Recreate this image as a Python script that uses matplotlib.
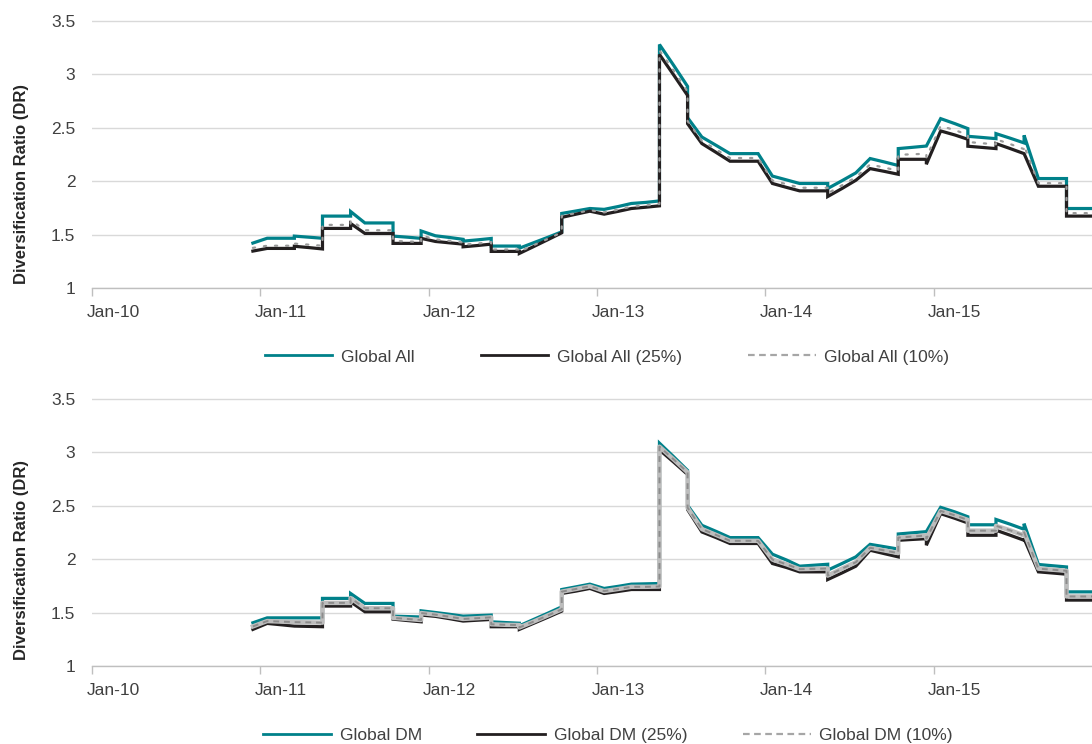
import matplotlib
matplotlib.use('Agg')
import matplotlib.pyplot as plt
import pandas as pd
from matplotlib.transforms import ScaledTranslation
from matplotlib.lines import Line2D

# ---------------- data ----------------
months = [
    '2010-12', '2011-01', '2011-02', '2011-03', '2011-03', '2011-04',
    '2011-05', '2011-05', '2011-06', '2011-07', '2011-07', '2011-08',
    '2011-09', '2011-10', '2011-10', '2011-11', '2011-12', '2011-12',
    '2012-01', '2012-02', '2012-03', '2012-03', '2012-04', '2012-05',
    '2012-05', '2012-06', '2012-07', '2012-07', '2012-08', '2012-09',
    '2012-10', '2012-10', '2012-11', '2012-12', '2013-01', '2013-02',
    '2013-03', '2013-04', '2013-05', '2013-05', '2013-06', '2013-07',
    '2013-07', '2013-08', '2013-09', '2013-10', '2013-11', '2013-12',
    '2014-01', '2014-02', '2014-03', '2014-04', '2014-05', '2014-05',
    '2014-06', '2014-07', '2014-08', '2014-09', '2014-10', '2014-10',
    '2014-11', '2014-12', '2014-12', '2015-01', '2015-02', '2015-03',
    '2015-03', '2015-04', '2015-05', '2015-05', '2015-06', '2015-07',
    '2015-07', '2015-08', '2015-09', '2015-10', '2015-10', '2015-11',
    '2015-12',
]

global_all = [
    1.42, 1.465, 1.465, 1.465, 1.485, 1.475,
    1.465, 1.672, 1.672, 1.672, 1.715, 1.608,
    1.608, 1.608, 1.485, 1.475, 1.464, 1.533,
    1.488, 1.472, 1.455, 1.438, 1.45, 1.463,
    1.392, 1.392, 1.392, 1.372, 1.423, 1.474,
    1.525, 1.697, 1.72, 1.743, 1.735, 1.762,
    1.79, 1.80, 1.814, 3.276, 3.08, 2.884,
    2.592, 2.411, 2.333, 2.256, 2.256, 2.256,
    2.046, 2.01, 1.977, 1.977, 1.977, 1.93,
    2.003, 2.076, 2.21, 2.178, 2.145, 2.303,
    2.315, 2.327, 2.327, 2.583, 2.536, 2.49,
    2.418, 2.407, 2.396, 2.443, 2.40, 2.356,
    2.427, 2.023, 2.023, 2.023, 1.743, 1.743,
    1.743,
]
global_all_25 = [
    1.345, 1.37, 1.37, 1.37, 1.39, 1.378,
    1.365, 1.557, 1.557, 1.557, 1.603, 1.51,
    1.51, 1.51, 1.417, 1.417, 1.417, 1.464,
    1.435, 1.422, 1.41, 1.385, 1.397, 1.41,
    1.342, 1.342, 1.342, 1.323, 1.387, 1.452,
    1.516, 1.66, 1.69, 1.718, 1.69, 1.717,
    1.743, 1.755, 1.768, 3.183, 2.99, 2.80,
    2.536, 2.35, 2.267, 2.185, 2.185, 2.185,
    1.977, 1.94, 1.908, 1.908, 1.908, 1.855,
    1.93, 2.007, 2.116, 2.09, 2.063, 2.203,
    2.203, 2.203, 2.157, 2.468, 2.43, 2.39,
    2.325, 2.314, 2.303, 2.35, 2.303, 2.256,
    2.256, 1.951, 1.951, 1.951, 1.672, 1.672,
    1.672,
]
global_all_10 = [
    1.375, 1.395, 1.395, 1.395, 1.415, 1.405,
    1.395, 1.59, 1.59, 1.59, 1.635, 1.54,
    1.54, 1.54, 1.44, 1.435, 1.43, 1.49,
    1.455, 1.44, 1.425, 1.405, 1.415, 1.43,
    1.36, 1.36, 1.36, 1.34, 1.40, 1.46,
    1.52, 1.675, 1.70, 1.727, 1.707, 1.733,
    1.76, 1.772, 1.785, 3.22, 3.03, 2.835,
    2.56, 2.375, 2.295, 2.215, 2.215, 2.215,
    2.005, 1.97, 1.937, 1.937, 1.937, 1.885,
    1.96, 2.035, 2.155, 2.125, 2.097, 2.245,
    2.25, 2.255, 2.22, 2.515, 2.475, 2.432,
    2.365, 2.353, 2.343, 2.39, 2.345, 2.298,
    2.33, 1.98, 1.98, 1.98, 1.70, 1.70,
    1.70,
]

global_dm = [
    1.404, 1.45, 1.45, 1.45, 1.45, 1.45,
    1.45, 1.632, 1.632, 1.632, 1.678, 1.585,
    1.585, 1.585, 1.466, 1.462, 1.458, 1.516,
    1.50, 1.483, 1.466, 1.466, 1.471, 1.476,
    1.413, 1.406, 1.40, 1.376, 1.435, 1.494,
    1.553, 1.715, 1.74, 1.765, 1.725, 1.745,
    1.765, 1.768, 1.771, 3.083, 2.955, 2.828,
    2.502, 2.315, 2.258, 2.20, 2.20, 2.20,
    2.045, 1.99, 1.933, 1.942, 1.951, 1.896,
    1.958, 2.02, 2.137, 2.115, 2.093, 2.234,
    2.245, 2.256, 2.256, 2.483, 2.44, 2.395,
    2.32, 2.32, 2.32, 2.37, 2.325, 2.278,
    2.33, 1.949, 1.937, 1.926, 1.693, 1.693,
    1.693,
]
global_dm_25 = [
    1.342, 1.398, 1.385, 1.373, 1.373, 1.37,
    1.367, 1.56, 1.56, 1.56, 1.60, 1.507,
    1.507, 1.507, 1.438, 1.425, 1.413, 1.476,
    1.464, 1.442, 1.42, 1.42, 1.428, 1.435,
    1.367, 1.367, 1.367, 1.342, 1.399, 1.456,
    1.513, 1.678, 1.70, 1.725, 1.678, 1.697,
    1.715, 1.715, 1.715, 3.02, 2.905, 2.79,
    2.462, 2.253, 2.20, 2.145, 2.145, 2.145,
    1.958, 1.92, 1.88, 1.88, 1.88, 1.808,
    1.87, 1.933, 2.082, 2.05, 2.02, 2.175,
    2.183, 2.19, 2.129, 2.424, 2.38, 2.337,
    2.222, 2.222, 2.222, 2.269, 2.222, 2.175,
    2.19, 1.88, 1.869, 1.858, 1.616, 1.616,
    1.616,
]
global_dm_10 = [
    1.37, 1.42, 1.415, 1.41, 1.41, 1.408,
    1.405, 1.59, 1.59, 1.59, 1.635, 1.54,
    1.54, 1.54, 1.45, 1.44, 1.43, 1.495,
    1.48, 1.46, 1.44, 1.44, 1.447, 1.455,
    1.39, 1.385, 1.383, 1.36, 1.415, 1.473,
    1.53, 1.695, 1.72, 1.745, 1.70, 1.72,
    1.74, 1.74, 1.743, 3.05, 2.93, 2.81,
    2.48, 2.28, 2.225, 2.17, 2.17, 2.17,
    1.995, 1.95, 1.905, 1.908, 1.912, 1.845,
    1.91, 1.97, 2.105, 2.08, 2.055, 2.20,
    2.21, 2.22, 2.19, 2.45, 2.408, 2.365,
    2.265, 2.265, 2.265, 2.31, 2.268, 2.22,
    2.25, 1.91, 1.90, 1.89, 1.65, 1.65,
    1.65,
]

tick_dates = ['2010-01-01', '2011-01-01', '2012-01-01', '2013-01-01',
              '2014-01-01', '2015-01-01']
tick_labels = ['Jan-10', 'Jan-11', 'Jan-12', 'Jan-13', 'Jan-14', 'Jan-15']
y_ticks = [1, 1.5, 2, 2.5, 3, 3.5]
y_tick_labels = ['1', '1.5', '2', '2.5', '3', '3.5']

panels = [
    (global_all, global_all_25, global_all_10,
     ['Global All', 'Global All (25%)', 'Global All (10%)'], 'dots'),
    (global_dm, global_dm_25, global_dm_10,
     ['Global DM', 'Global DM (25%)', 'Global DM (10%)'], 'dash'),
]

# ---------------- style ----------------
TEAL = '#00818a'
BLACK = '#231f20'
GRAY = '#a6a6a6'
TXT = '#404040'
plt.rcParams['font.family'] = ['Liberation Sans', 'DejaVu Sans']

W, H = 1092, 744
fig = plt.figure(figsize=(W / 100, H / 100), dpi=100)

x = pd.to_datetime(months) + pd.Timedelta(days=15)
xt = pd.to_datetime(tick_dates)

rects = [(20, 288), (398, 666)]
legend_y = [357, 735]
legend_x = [607, 608]
legend_colsp = [3.8, 3.2]
ylabel_y = [184, 560]

for i, (ser, ser25, ser10, labels, gstyle) in enumerate(panels):
    top, bot = rects[i]
    ax = fig.add_axes([92 / W, 1 - bot / H, 1010 / W, (bot - top) / H])
    ax.plot(x, ser, color=TEAL, lw=2.3, zorder=3, solid_joinstyle='miter')
    ax.plot(x, ser25, color=BLACK, lw=2.3, zorder=4, solid_joinstyle='miter')
    if gstyle == 'dots':
        ax.plot(x, ser10, color='#9a9a9a', lw=1.6, ls=(0, (1, 4)), zorder=5,
                dash_capstyle='round')
    else:
        ax.plot(x, ser10, color='#bdbdbd', lw=3.2, zorder=5)
        ax.plot(x, ser10, color='#8c8c8c', lw=1.4, ls=(0, (3, 2.5)), zorder=6)

    ax.set_xlim(pd.Timestamp('2010-01-01'), pd.Timestamp('2016-01-01'))
    ax.set_ylim(1, 3.505)
    ax.set_yticks(y_ticks)
    ax.set_yticklabels(y_tick_labels)
    ax.set_xticks(xt)
    ax.set_xticklabels(tick_labels)
    for s in ['top', 'right', 'left']:
        ax.spines[s].set_visible(False)
    ax.spines['bottom'].set_color('#bfbfbf')
    ax.spines['bottom'].set_linewidth(1)
    ax.yaxis.grid(True, color='#d9d9d9', lw=1)
    ax.set_axisbelow(True)
    ax.tick_params(axis='y', length=0, pad=12, labelsize=12.5, labelcolor=TXT)
    ax.tick_params(axis='x', direction='out', length=6, width=1, color='#bfbfbf',
                   pad=6, labelsize=12.5, labelcolor=TXT)
    off = ScaledTranslation(-4 / 72, 0, fig.dpi_scale_trans)
    for lbl in ax.get_xticklabels():
        lbl.set_ha('left')
        lbl.set_transform(lbl.get_transform() + off)

    fig.text(22 / W, 1 - ylabel_y[i] / H, 'Diversification Ratio (DR)',
             rotation=90, ha='center', va='center', fontsize=12,
             fontweight='bold', color='#262626')

    handles = [
        Line2D([], [], color=TEAL, lw=2),
        Line2D([], [], color=BLACK, lw=2),
        Line2D([], [], color=GRAY, lw=1.6, ls=(0, (3, 2))),
    ]
    fig.legend(handles, labels, loc='center', ncol=3, frameon=False,
               bbox_to_anchor=(legend_x[i] / W, 1 - legend_y[i] / H),
               fontsize=12.5, handlelength=3.9, handletextpad=0.5,
               columnspacing=legend_colsp[i], labelcolor=TXT)

fig.savefig('out.png', dpi=100)
